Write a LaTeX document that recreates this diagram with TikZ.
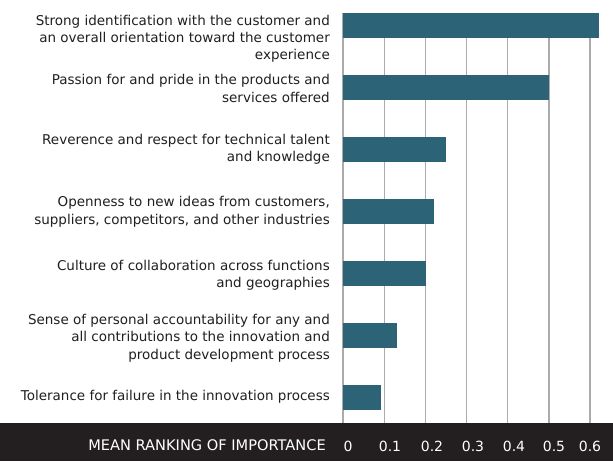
\documentclass[tikz,border=0pt]{standalone}
\usepackage{fontspec}
\setmainfont{DejaVu Sans}
\definecolor{barblue}{HTML}{2C6377}
\definecolor{gridgray}{HTML}{ABABAB}
\definecolor{bandblack}{HTML}{231F20}
\definecolor{labeltext}{HTML}{231F20}
\tikzset{
  bar/.style={fill=barblue, draw=none},
  gridline/.style={draw=gridgray, line width=1.3pt},
  catlabel/.style={anchor=base east, inner sep=0pt, align=right, text=labeltext,
    font=\fontsize{13.5}{17.3}\selectfont},
  ticklabel/.style={anchor=base, inner sep=0pt, text=white,
    font=\fontsize{14}{16}\selectfont},
  axistitle/.style={anchor=base east, inner sep=0pt, text=white,
    font=\fontsize{14.6}{16}\selectfont}
}
\begin{document}
\begin{tikzpicture}[x=1pt,y=-1pt]
\useasboundingbox (0,0) rectangle (613,461);
\fill[white] (0,0) rectangle (613,461);
% gridlines
\foreach \i in {0,...,6} {
  \draw[gridline] ({343+41.17*\i},13) -- ({343+41.17*\i},423);
}
% bars
\fill[bar] (343,13) rectangle (598.7,37.5);
\fill[bar] (343,75) rectangle (549,99.5);
\fill[bar] (343,137) rectangle (446,161.5);
\fill[bar] (343,199) rectangle (433.7,223.5);
\fill[bar] (343,261) rectangle (425.7,285.5);
\fill[bar] (343,323) rectangle (397,347.5);
\fill[bar] (343,385) rectangle (381,409.5);
% labels (anchored at the baseline of the last line)
\node[catlabel] (l1) at (330,59.6) {Strong identification with the customer and\\an overall orientation toward the customer\\experience};
\node[catlabel] (l2) at (330,102) {Passion for and pride in the products and\\services offered};
\node[catlabel] (l3) at (330,161.7) {Reverence and respect for technical talent\\and knowledge};
\node[catlabel] (l4) at (330,224) {Openness to new ideas from customers,\\suppliers, competitors, and other industries};
\node[catlabel] (l5) at (330,287.7) {Culture of collaboration across functions\\and geographies};
\node[catlabel] (l6) at (330,359) {Sense of personal accountability for any and\\all contributions to the innovation and\\product development process};
\node[catlabel] (l7) at (330,400) {Tolerance for failure in the innovation process};
% band
\fill[bandblack] (0,423) rectangle (613,461);
\node[axistitle] (title) at (326,450.7) {MEAN RANKING OF IMPORTANCE};
\node[ticklabel] (t0) at (348,451) {0};
\node[ticklabel] (t1) at (390,451) {0.1};
\node[ticklabel] (t2) at (432,451) {0.2};
\node[ticklabel] (t3) at (473,451) {0.3};
\node[ticklabel] (t4) at (514,451) {0.4};
\node[ticklabel] (t5) at (554,451) {0.5};
\node[ticklabel] (t6) at (590,451) {0.6};
\end{tikzpicture}
\end{document}
